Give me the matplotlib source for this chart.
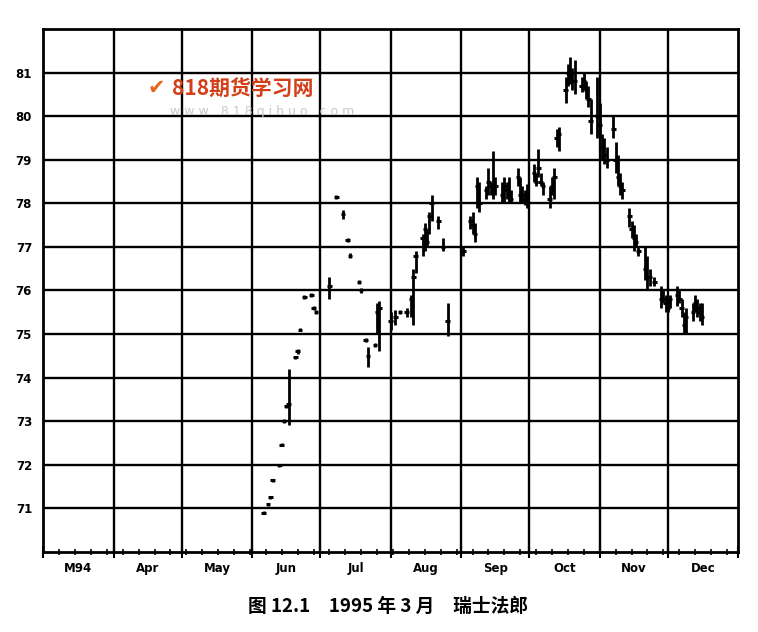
import matplotlib
matplotlib.use("Agg")
import matplotlib.pyplot as plt
import matplotlib.dates as mdates
import matplotlib.transforms as mtransforms
import numpy as np

plt.rcParams['font.family'] = ['DejaVu Sans']

# ---------------- data ----------------
dates = [
    "1994-06-06", "1994-06-08", "1994-06-09", "1994-06-10", "1994-06-13", "1994-06-14",
    "1994-06-15", "1994-06-16", "1994-06-17", "1994-06-20", "1994-06-21", "1994-06-22",
    "1994-06-24", "1994-06-27", "1994-06-28", "1994-06-29",
    "1994-07-05", "1994-07-08", "1994-07-11", "1994-07-13", "1994-07-14", "1994-07-18",
    "1994-07-19", "1994-07-21", "1994-07-22", "1994-07-25", "1994-07-26", "1994-07-27",
    "1994-08-01", "1994-08-03", "1994-08-05", "1994-08-08", "1994-08-10", "1994-08-11",
    "1994-08-12", "1994-08-15", "1994-08-16", "1994-08-17", "1994-08-18", "1994-08-19",
    "1994-08-22", "1994-08-24", "1994-08-26",
    "1994-09-02", "1994-09-05", "1994-09-06", "1994-09-07", "1994-09-08", "1994-09-09",
    "1994-09-12", "1994-09-13", "1994-09-14", "1994-09-15", "1994-09-16", "1994-09-19",
    "1994-09-20", "1994-09-21", "1994-09-22", "1994-09-23", "1994-09-26", "1994-09-27",
    "1994-09-28", "1994-09-29", "1994-09-30",
    "1994-10-03", "1994-10-04", "1994-10-05", "1994-10-06", "1994-10-07", "1994-10-10",
    "1994-10-11", "1994-10-12", "1994-10-13", "1994-10-14", "1994-10-17", "1994-10-18",
    "1994-10-19", "1994-10-20", "1994-10-21", "1994-10-24", "1994-10-25", "1994-10-26",
    "1994-10-27", "1994-10-28", "1994-10-31",
    "1994-11-01", "1994-11-02", "1994-11-03", "1994-11-04", "1994-11-07", "1994-11-08",
    "1994-11-09", "1994-11-10", "1994-11-11", "1994-11-14", "1994-11-15", "1994-11-16",
    "1994-11-17", "1994-11-18", "1994-11-21", "1994-11-22", "1994-11-23", "1994-11-25",
    "1994-11-28", "1994-11-29", "1994-11-30",
    "1994-12-01", "1994-12-02", "1994-12-05", "1994-12-06", "1994-12-07", "1994-12-08",
    "1994-12-09", "1994-12-12", "1994-12-13", "1994-12-14", "1994-12-15", "1994-12-16",
]
highs = [
    70.93, 71.12, 71.28, 71.67, 72.00, 72.50, 73.04, 73.38, 74.20, 74.50, 74.65, 75.14,
    75.90, 75.95, 75.65, 75.55,
    76.30, 78.20, 77.85, 77.20, 76.85, 76.25, 76.05, 74.90, 74.70, 74.80, 75.70, 75.75,
    75.50, 75.55, 75.55, 75.60, 75.90, 76.50, 76.90, 77.30, 77.55, 77.40, 77.80, 78.20,
    77.70, 77.20, 75.70,
    77.00, 77.70, 77.80, 77.55, 78.60, 78.50, 78.40, 78.80, 78.50, 79.20, 78.60, 78.50,
    78.60, 78.50, 78.60, 78.30, 78.80, 78.60, 78.40, 78.30, 78.45,
    78.90, 78.70, 79.25, 78.70, 78.50, 78.40, 78.60, 78.80, 79.70, 79.75, 80.90, 81.20,
    81.35, 81.10, 81.30, 80.90, 81.00, 80.80, 80.70, 80.40, 80.90,
    80.30, 79.60, 79.50, 79.30, 80.00, 79.40, 79.10, 78.70, 78.50, 77.90, 77.60, 77.50,
    77.30, 77.00, 77.00, 76.80, 76.50, 76.30, 76.10, 76.00, 75.90,
    75.80, 75.90, 76.10, 76.00, 75.80, 75.50, 75.60, 75.70, 75.90, 75.80, 75.70, 75.70,
]
lows = [
    70.87, 71.06, 71.22, 71.60, 71.95, 72.42, 72.96, 73.30, 72.90, 74.42, 74.55, 75.06,
    75.80, 75.85, 75.55, 75.45,
    75.80, 78.10, 77.65, 77.10, 76.75, 76.15, 75.95, 74.82, 74.24, 74.70, 75.00, 74.60,
    75.10, 75.20, 75.45, 75.40, 75.40, 75.20, 76.40, 76.80, 76.90, 77.00, 77.30, 77.60,
    77.40, 76.90, 74.95,
    76.80, 77.40, 77.30, 77.10, 77.90, 77.80, 78.10, 78.20, 78.20, 78.10, 78.20, 78.00,
    78.00, 78.10, 78.00, 78.00, 78.40, 78.00, 78.00, 77.95, 77.90,
    78.50, 78.40, 78.60, 78.40, 78.20, 77.90, 78.20, 78.10, 79.30, 79.20, 80.30, 80.70,
    80.75, 80.60, 80.50, 80.55, 80.60, 80.40, 80.20, 79.60, 79.50,
    79.50, 79.00, 78.90, 78.80, 79.50, 78.70, 78.40, 78.20, 78.10, 77.45, 77.20, 76.90,
    77.00, 76.80, 76.25, 76.00, 76.10, 76.10, 75.60, 75.70, 75.50,
    75.50, 75.60, 75.65, 75.70, 75.40, 75.00, 75.00, 75.30, 75.50, 75.40, 75.30, 75.20,
]
closes = [
    70.90, 71.10, 71.25, 71.64, 71.98, 72.46, 73.00, 73.35, 73.40, 74.47, 74.60, 75.10,
    75.85, 75.90, 75.60, 75.50,
    76.10, 78.15, 77.75, 77.15, 76.80, 76.20, 76.00, 74.86, 74.50, 74.75, 75.50, 75.60,
    75.30, 75.40, 75.50, 75.50, 75.80, 76.30, 76.80, 77.20, 77.40, 77.10, 77.70, 78.00,
    77.60, 77.00, 75.30,
    76.90, 77.60, 77.50, 77.30, 78.40, 78.00, 78.30, 78.50, 78.40, 78.30, 78.40, 78.20,
    78.40, 78.30, 78.20, 78.10, 78.60, 78.20, 78.20, 78.10, 78.20,
    78.70, 78.50, 78.80, 78.50, 78.40, 78.10, 78.40, 78.60, 79.50, 79.60, 80.60, 81.00,
    81.00, 80.80, 80.80, 80.70, 80.80, 80.60, 80.40, 79.90, 80.00,
    79.80, 79.30, 79.10, 79.00, 79.70, 79.00, 78.60, 78.40, 78.30, 77.70, 77.40, 77.20,
    77.10, 76.90, 76.50, 76.30, 76.30, 76.20, 75.80, 75.80, 75.70,
    75.60, 75.80, 75.90, 75.80, 75.60, 75.20, 75.40, 75.50, 75.70, 75.60, 75.50, 75.40,
]

month_starts = ["1994-03-01", "1994-04-01", "1994-05-01", "1994-06-01", "1994-07-01",
                "1994-08-01", "1994-09-01", "1994-10-01", "1994-11-01", "1994-12-01",
                "1995-01-01"]
month_labels = ["M94", "Apr", "May", "Jun", "Jul", "Aug", "Sep", "Oct", "Nov", "Dec"]
y_ticks = [71, 72, 73, 74, 75, 76, 77, 78, 79, 80, 81]
y_range = (70, 82)
caption = "图 12.1　1995 年 3 月　瑞士法郎"

# ---------------- figure ----------------
fig = plt.figure(figsize=(7.58, 6.32), dpi=100)
ax = fig.add_axes([0.057, 0.127, 0.917, 0.827])

x = mdates.datestr2num(dates)
ms = mdates.datestr2num(month_starts)

ax.set_xlim(ms[0], ms[-1])
ax.set_ylim(*y_range)

# grid
for yv in y_ticks:
    ax.axhline(yv, color="black", lw=1.7, zorder=1)
for xv in ms[1:-1]:
    ax.axvline(xv, color="black", lw=1.7, zorder=1)

# price bars
ax.vlines(x, lows, highs, color="black", lw=2.0, zorder=3)
ax.hlines(closes, x - 1.0, x + 1.0, color="black", lw=2.2, zorder=3)

# axes styling
for s in ax.spines.values():
    s.set_linewidth(2.0)

ax.set_yticks(y_ticks)
ax.set_yticklabels([str(v) for v in y_ticks], fontsize=8.5, fontweight="bold")
ax.tick_params(axis="y", length=0, pad=8)

ax.set_xticks(ms)
ax.set_xticklabels([""] * len(ms))
ax.tick_params(axis="x", which="major", direction="inout", length=9, width=1.5)
weeks = np.arange(ms[0], ms[-1], 7.0)
ax.set_xticks(weeks, minor=True)
ax.tick_params(axis="x", which="minor", direction="inout", length=5, width=1.2)

trans = mtransforms.blended_transform_factory(ax.transData, ax.transAxes)
for i, lab in enumerate(month_labels):
    ax.text((ms[i] + ms[i + 1]) / 2, -0.019, lab, transform=trans, ha="center", va="top",
            fontsize=8.5, fontweight="bold")

# watermark
fig.text(148 / 758, 1 - 88 / 632, "✔", color="#e8661c", fontsize=15, fontweight="bold",
         va="center", ha="left")
fig.text(172 / 758, 1 - 88 / 632, "818期货学习网", color="#d2401a", fontsize=15,
         fontweight="bold", va="center", ha="left",
         family=["Noto Sans CJK SC", "DejaVu Sans"])
fig.text(170 / 758, 1 - 112 / 632, "w w w . 8 1 8 q i h u o . c o m", color="#c9c9c9",
         fontsize=9, va="center", ha="left")

# caption
fig.text(0.512, 1 - 606 / 632, caption, ha="center", va="center", fontsize=13.5,
         fontweight="bold", family=["Noto Sans CJK SC", "DejaVu Sans"])

fig.savefig("out.png", dpi=100)
